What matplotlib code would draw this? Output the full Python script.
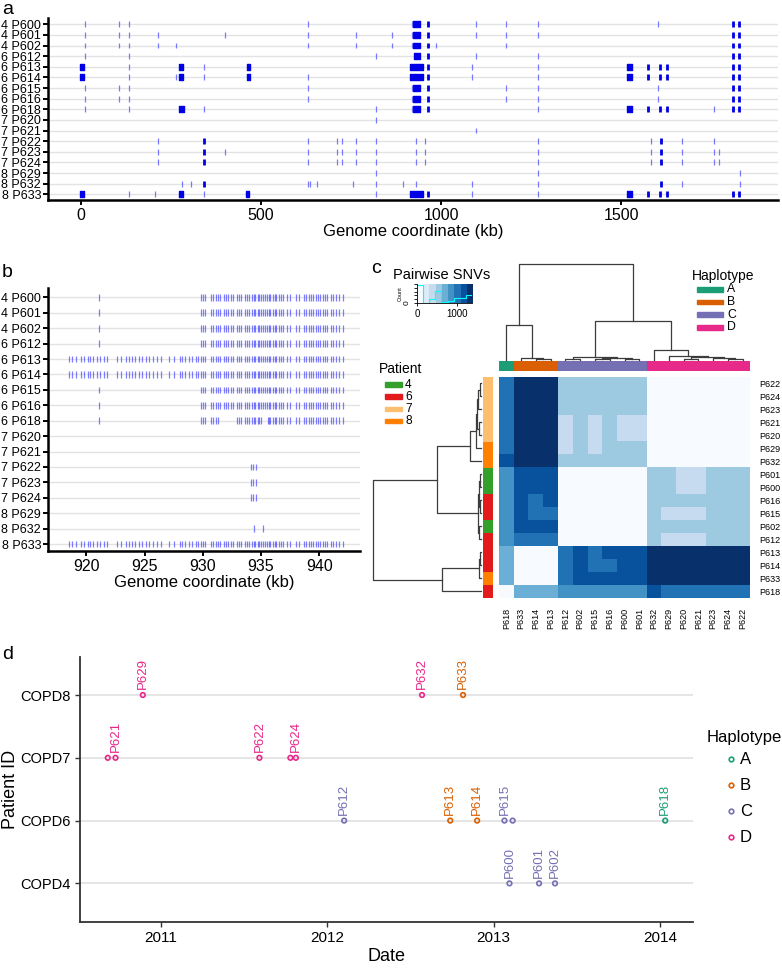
import matplotlib
matplotlib.use("Agg")
import matplotlib.pyplot as plt
from matplotlib.colors import ListedColormap, BoundaryNorm
from matplotlib.patches import Rectangle
import matplotlib.dates as mdates
import numpy as np
from datetime import date

plt.rcParams['font.family'] = ['Liberation Sans', 'DejaVu Sans']

W, H = 782, 968

# ---------------- panel a / b data ----------------
sample_rows = ["4 P600", "4 P601", "4 P602", "6 P612", "6 P613", "6 P614", "6 P615",
               "6 P616", "6 P618", "7 P620", "7 P621", "7 P622", "7 P623", "7 P624",
               "8 P629", "8 P632", "8 P633"]

# single SNVs (kb)
a_light = {
    "P600": [11, 106, 133, 631, 920, 1096, 1181, 1270, 1603],
    "P601": [11, 106, 133, 213, 399, 631, 763, 864, 920, 1096, 1181, 1270],
    "P602": [11, 106, 133, 213, 264, 631, 763, 864, 920, 987, 1181],
    "P612": [11, 133, 818, 1096, 1270],
    "P613": [133, 341, 1087, 1270],
    "P614": [133, 264, 341, 631, 1087, 1270],
    "P615": [11, 106, 133, 631, 920, 1181, 1270, 1603],
    "P616": [11, 106, 133, 631, 920, 1181, 1270, 1603],
    "P618": [11, 133, 341, 818, 920, 1270, 1757],
    "P620": [818],
    "P621": [1096],
    "P622": [213, 631, 712, 726, 763, 818, 931, 954, 1270, 1583, 1668, 1757],
    "P623": [213, 399, 631, 712, 726, 763, 818, 931, 954, 1270, 1583, 1668, 1757, 1771],
    "P624": [213, 631, 712, 726, 763, 818, 931, 954, 1270, 1583, 1668, 1757, 1771],
    "P629": [818, 1270, 1830],
    "P632": [279, 304, 631, 637, 654, 755, 818, 894, 931, 1087, 1270, 1668, 1830],
    "P633": [133, 206, 341, 818, 1087, 1270],
}
# sites with several SNVs on top of each other (kb)
a_dark = {
    "P600": [965, 1810, 1828], "P601": [965, 1810, 1828], "P602": [965, 1810, 1828],
    "P612": [965, 1810, 1828],
    "P613": [965, 1576, 1609, 1627, 1810, 1828], "P614": [965, 1576, 1609, 1627, 1810, 1828],
    "P615": [965, 1810, 1828], "P616": [965, 1810, 1828],
    "P618": [965, 1576, 1609, 1627, 1810, 1828],
    "P620": [], "P621": [],
    "P622": [341, 1611], "P623": [341, 1611], "P624": [341, 1611],
    "P629": [], "P632": [341, 1611],
    "P633": [965, 1576, 1609, 1627, 1810, 1828],
}
# dense SNV stretches (start kb, end kb)
a_blocks = {
    "P600": [(923, 941)], "P601": [(923, 941)], "P602": [(923, 941)], "P612": [(924, 941)],
    "P613": [(-4, 8), (273, 284), (460, 469), (915, 950), (1516, 1530)],
    "P614": [(-4, 8), (273, 284), (460, 469), (915, 950), (1516, 1530)],
    "P615": [(923, 941)], "P616": [(923, 941)],
    "P618": [(271, 286), (923, 941), (1516, 1530)],
    "P633": [(-4, 8), (273, 284), (458, 467), (915, 950), (1516, 1530)],
}

# panel b: SNVs in the 917-943 kb window
b_921 = [921.1]
b_shared = [929.8, 930.0, 930.2, 930.7, 930.9, 931.1, 931.3, 931.5, 931.8, 932.0, 932.2, 932.4,
            932.6, 932.9, 933.1, 933.3, 933.6, 933.8, 934.0, 934.2, 934.4, 934.5, 934.7, 934.8,
            935.0, 935.2, 935.3, 935.5, 935.7, 935.8, 936.0, 936.2, 936.3, 936.5, 936.7, 936.9,
            937.2, 937.5, 938.0, 938.3, 938.7, 938.9, 939.1, 939.3, 939.5, 939.7, 939.9, 940.1,
            940.3, 940.5, 940.7, 941.0, 941.2, 941.4, 941.7, 942.0]
b_early = [918.5, 918.8, 919.1, 919.5, 919.8, 920.1, 920.3, 920.6, 920.9, 921.2, 921.5, 921.8,
           922.6, 923.0, 923.4, 923.7, 923.9, 924.2, 924.5, 924.8, 925.1, 925.4, 925.7, 926.1,
           926.4, 927.1, 927.5, 928.0, 928.2, 928.5, 928.8, 929.1, 929.4, 929.6]
b_p618 = [929.8, 930.0, 930.2, 930.7, 930.9, 931.1, 931.3, 932.9, 933.1, 933.3, 933.6, 933.8,
          934.0, 934.2, 934.4, 934.5, 934.7, 934.8, 935.0, 935.6, 935.7, 935.8, 936.0, 936.2,
          936.3, 936.5, 936.7, 936.9, 937.2, 937.5, 938.0, 938.3, 938.7, 938.9, 939.1, 939.3,
          939.5, 939.7, 939.9, 940.1, 940.3, 940.5, 940.7, 941.0, 941.2, 941.4, 941.7, 942.0]
b_d = [934.1, 934.35, 934.6]
b_p632 = [934.4, 935.2]
b_sites = {
    "P600": b_921 + b_shared, "P601": b_921 + b_shared, "P602": b_921 + b_shared,
    "P612": b_921 + b_shared, "P613": b_early + b_shared, "P614": b_early + b_shared,
    "P615": b_921 + b_shared, "P616": b_921 + b_shared, "P618": b_921 + b_p618,
    "P620": [], "P621": [], "P622": b_d, "P623": b_d, "P624": b_d,
    "P629": [], "P632": b_p632, "P633": b_early + b_shared,
}

# ---------------- panel c data ----------------
hm_order = ["P618", "P633", "P614", "P613", "P612", "P602", "P615", "P616", "P600", "P601",
            "P632", "P629", "P620", "P621", "P623", "P624", "P622"]
haplotype = {"P618": "A", "P633": "B", "P614": "B", "P613": "B",
             "P612": "C", "P602": "C", "P615": "C", "P616": "C", "P600": "C", "P601": "C",
             "P632": "D", "P629": "D", "P620": "D", "P621": "D", "P623": "D", "P624": "D", "P622": "D"}
patient = {"P600": "4", "P601": "4", "P602": "4", "P612": "6", "P613": "6", "P614": "6",
           "P615": "6", "P616": "6", "P618": "6", "P620": "7", "P621": "7", "P622": "7",
           "P623": "7", "P624": "7", "P629": "8", "P632": "8", "P633": "8"}
group_snvs = {("A", "A"): 0, ("A", "B"): 700, ("A", "C"): 850, ("A", "D"): 1000,
              ("B", "B"): 40, ("B", "C"): 1150, ("B", "D"): 1320,
              ("C", "C"): 30, ("C", "D"): 520, ("D", "D"): 20}
pair_snvs = {("P632", "P618"): 1150,
             ("P621", "P612"): 400, ("P621", "P615"): 400, ("P621", "P600"): 400, ("P621", "P601"): 400,
             ("P620", "P612"): 400, ("P620", "P615"): 400, ("P620", "P600"): 400, ("P620", "P601"): 400,
             ("P629", "P612"): 400, ("P629", "P615"): 400,
             ("P616", "P614"): 1000, ("P615", "P614"): 1000, ("P615", "P613"): 1000,
             ("P612", "P633"): 1000, ("P612", "P614"): 1000, ("P612", "P613"): 1000}
# clustering tree (left, right, height)
snv_tree = (("P618", ("P633", ("P614", "P613", 1.0), 2.0), 35),
            ((("P612", "P602", 1.5), (("P615", "P616", 1.0), ("P600", "P601", 1.0), 2.0), 3.0),
             ("P632", ("P629", (("P620", "P621", 1.5), ("P623", ("P624", "P622", 1.0), 2.5), 3.5), 4.5), 10),
             39), 96)
hap_colors = {"A": "#1b9e77", "B": "#d95f02", "C": "#7570b3", "D": "#e7298a"}
pat_colors = {"4": "#33a02c", "6": "#e31a1c", "7": "#fdbf6f", "8": "#ff7f00"}
blues = ["#f7fbff", "#deebf7", "#c6dbef", "#9ecae1", "#6baed6", "#4292c6", "#2171b5", "#08519c", "#08306b"]
snv_max = 1390

# ---------------- panel d data ----------------
d_samples = ["P620", "P621", "P629", "P622", "P623", "P624", "P612", "P632", "P613", "P633",
             "P614", "P615", "P600", "P616", "P601", "P602", "P618"]
d_dates = [date(2010, 9, 7), date(2010, 9, 24), date(2010, 11, 23), date(2011, 8, 6),
           date(2011, 10, 13), date(2011, 10, 25), date(2012, 2, 8), date(2012, 7, 28),
           date(2012, 9, 28), date(2012, 10, 26), date(2012, 11, 26), date(2013, 1, 25),
           date(2013, 2, 5), date(2013, 2, 12), date(2013, 4, 11), date(2013, 5, 16),
           date(2014, 1, 13)]
d_labelled = ["P621", "P629", "P622", "P624", "P612", "P632", "P613", "P633", "P614", "P615",
              "P600", "P601", "P602", "P618"]
patient_ids = ["COPD4", "COPD6", "COPD7", "COPD8"]

fig = plt.figure(figsize=(W / 100, H / 100), dpi=100)


def box(l, t, r, b):
    return [l / W, 1 - b / H, (r - l) / W, (b - t) / H]


def genome_axes(rect, ylim):
    ax = fig.add_axes(rect)
    for s in ("top", "right"):
        ax.spines[s].set_visible(False)
    for s in ("left", "bottom"):
        ax.spines[s].set_linewidth(1.8)
    ax.set_yticks(range(len(sample_rows)))
    ax.set_yticklabels(sample_rows, fontsize=9)
    ax.set_ylim(*ylim)
    for i in range(len(sample_rows)):
        ax.axhline(i, color="#e3e3e3", lw=1, zorder=0)
    ax.tick_params(axis="y", length=3.5, width=1.4, pad=1.5)
    ax.tick_params(axis="x", length=3.5, width=1.4, labelsize=11.5, pad=2)
    ax.set_xlabel("Genome coordinate (kb)", fontsize=12, labelpad=1)
    return ax


# ---- a ----
ax_a = genome_axes(box(48, 18, 778, 200), (16.54, -0.59))
ax_a.set_xlim(-92, 1936)
ax_a.set_xticks([0, 500, 1000, 1500])
for i, row in enumerate(sample_rows):
    s = row.split()[1]
    ax_a.vlines(a_light[s], i - 0.28, i + 0.28, color="#5a5aff", lw=0.9, alpha=0.8)
    ax_a.vlines(a_dark[s], i - 0.28, i + 0.28, color="#0000e6", lw=2.0)
    blocks = a_blocks.get(s, [])
    ax_a.broken_barh([(st, en - st) for st, en in blocks], (i - 0.28, 0.56), color="#0000e6")

# ---- b ----
ax_b = genome_axes(box(48, 288, 360, 551), (16.45, -0.61))
ax_b.set_xlim(916.7, 943.5)
ax_b.set_xticks([920, 925, 930, 935, 940])
for i, row in enumerate(sample_rows):
    s = row.split()[1]
    ax_b.vlines(b_sites[s], i - 0.22, i + 0.22, color="#2a2aff", lw=0.9, alpha=0.6)

# ---- c ----
def snvs(p, q):
    if p == q:
        return 0
    if (p, q) in pair_snvs:
        return pair_snvs[(p, q)]
    if (q, p) in pair_snvs:
        return pair_snvs[(q, p)]
    g = tuple(sorted((haplotype[p], haplotype[q])))
    return group_snvs[g]


row_order = hm_order[::-1]
M = np.array([[snvs(r, c) for c in hm_order] for r in row_order])
cmap = ListedColormap(blues)
bounds = np.linspace(0, snv_max, len(blues) + 1)
norm = BoundaryNorm(bounds, cmap.N)

ax_h = fig.add_axes(box(499, 376.7, 750, 597.7))
ax_h.imshow(M, cmap=cmap, norm=norm, aspect="auto", interpolation="nearest")
for s in ax_h.spines.values():
    s.set_visible(False)
ax_h.yaxis.tick_right()
ax_h.set_yticks(range(len(row_order)))
ax_h.set_yticklabels(row_order, fontsize=6.5)
ax_h.set_xticks(range(len(hm_order)))
ax_h.set_xticklabels(hm_order, fontsize=6.5, rotation=90)
ax_h.tick_params(length=0, pad=7)

# haplotype bar (columns)
ax_cb = fig.add_axes(box(499, 361, 750, 371))
ax_cb.bar(range(len(hm_order)), 1, width=1.0, color=[hap_colors[haplotype[s]] for s in hm_order])
ax_cb.set_xlim(-0.5, len(hm_order) - 0.5)
ax_cb.set_ylim(0, 1)
ax_cb.axis("off")

# patient bar (rows)
ax_rb = fig.add_axes(box(483, 376.7, 493, 597.7))
ax_rb.barh(range(len(row_order)), 1, height=1.0, color=[pat_colors[patient[s]] for s in row_order])
ax_rb.set_ylim(len(row_order) - 0.5, -0.5)
ax_rb.set_xlim(0, 1)
ax_rb.axis("off")


def draw_tree(ax, node, pos, top):
    if isinstance(node, str):
        return pos[node], 0.0
    left, right, h = node
    pl, hl = draw_tree(ax, left, pos, top)
    pr, hr = draw_tree(ax, right, pos, top)
    xs, hs = [pl, pl, pr, pr], [hl, h, h, hr]
    if top:
        ax.plot(xs, hs, color="#3c3c3c", lw=0.9, clip_on=False)
    else:
        ax.plot(hs, xs, color="#3c3c3c", lw=0.9, clip_on=False)
    return (pl + pr) / 2, h


ax_ct = fig.add_axes(box(499, 262, 750, 360))
draw_tree(ax_ct, snv_tree, {s: i for i, s in enumerate(hm_order)}, True)
ax_ct.set_xlim(-0.5, len(hm_order) - 0.5)
ax_ct.set_ylim(0, 98)
ax_ct.axis("off")

ax_rt = fig.add_axes(box(373, 376.7, 481, 597.7))
draw_tree(ax_rt, snv_tree, {s: i for i, s in enumerate(row_order)}, False)
ax_rt.set_ylim(len(row_order) - 0.5, -0.5)
ax_rt.set_xlim(96, 0)
ax_rt.axis("off")

# colour key with histogram
ax_k = fig.add_axes(box(417, 284, 472, 303))
ax_k.imshow(np.arange(len(blues))[None, :], cmap=cmap, aspect="auto",
            extent=(0, snv_max, 0, 1), interpolation="nearest")
counts, _ = np.histogram(M.ravel(), bins=bounds)
hist = counts / counts.max() * 0.95
ax_k.step(bounds, np.append(hist, hist[-1]), where="post", color="cyan", lw=0.8)
ax_k.set_xlim(0, snv_max)
ax_k.set_ylim(0, 1)
ax_k.set_xticks([0, 1000])
ax_k.set_xticklabels(["0", "1000"], fontsize=7)
ax_k.set_yticks(np.linspace(0, 1, 6))
ax_k.set_yticklabels(["0", "", "", "", "", ""], fontsize=6, rotation=90, va="center")
ax_k.set_ylabel("Count", fontsize=4, labelpad=1)
ax_k.tick_params(length=2.5, width=0.6, pad=2)
for s in ("top", "right"):
    ax_k.spines[s].set_visible(False)
for s in ("left", "bottom"):
    ax_k.spines[s].set_linewidth(0.6)

# ---- d ----
ax_d = fig.add_axes(box(80, 656.7, 693, 921.7))
ypos = [patient_ids.index("COPD" + patient[s]) for s in d_samples]
cols = [hap_colors[haplotype[s]] for s in d_samples]
ax_d.scatter(d_dates, ypos, s=11, facecolors="none", edgecolors=cols, linewidths=1.2, zorder=3)
for s, dt, y, c in zip(d_samples, d_dates, ypos, cols):
    if s in d_labelled:
        ax_d.annotate(s, (mdates.date2num(dt), y), xytext=(0, 4), textcoords="offset points",
                      rotation=90, ha="center", va="bottom", color=c, fontsize=9.5)
ax_d.set_yticks(range(len(patient_ids)))
ax_d.set_yticklabels(patient_ids, fontsize=10.5)
ax_d.set_ylim(-0.61, 3.61)
ax_d.set_xlim(date(2010, 7, 8), date(2014, 3, 15))
ax_d.xaxis.set_major_locator(mdates.YearLocator())
ax_d.xaxis.set_major_formatter(mdates.DateFormatter("%Y"))
ax_d.tick_params(axis="x", labelsize=11, length=3.5, width=1, color="#333333")
ax_d.tick_params(axis="y", length=3.5, width=1, color="#333333", labelsize=10.5)
ax_d.yaxis.grid(True, color="#e0e0e0", lw=1.2)
ax_d.set_axisbelow(True)
for s in ("top", "right"):
    ax_d.spines[s].set_visible(False)
for s in ("left", "bottom"):
    ax_d.spines[s].set_linewidth(1.3)
    ax_d.spines[s].set_color("#333333")
ax_d.set_xlabel("Date", fontsize=13, labelpad=2)
ax_d.set_ylabel("Patient ID", fontsize=13, labelpad=1)

# ---- overlay: panel letters and legends (pixel coordinates) ----
ov = fig.add_axes([0, 0, 1, 1], facecolor="none")
ov.set_xlim(0, W)
ov.set_ylim(H, 0)
ov.axis("off")
for letter, x, y in [("a", 2, 14), ("b", 2, 277), ("c", 371, 273), ("d", 2, 659)]:
    ov.text(x, y, letter, fontsize=14, va="baseline")

ov.text(393, 279, "Pairwise SNVs", fontsize=10.5, va="baseline")

ov.text(692, 280, "Haplotype", fontsize=10, va="baseline")
for k, (h, c) in enumerate(hap_colors.items()):
    yc = 289.5 + 12.6 * k
    ov.add_patch(Rectangle((697, yc - 2.3), 26, 4.6, color=c))
    ov.text(727, yc, h, fontsize=8.8, va="center")

ov.text(379, 373, "Patient", fontsize=10, va="baseline")
for k, (p, c) in enumerate(pat_colors.items()):
    yc = 384.5 + 12.2 * k
    ov.add_patch(Rectangle((385, yc - 2.3), 17, 4.6, color=c))
    ov.text(405, yc, p, fontsize=8.6, va="center")

ov.text(707, 742, "Haplotype", fontsize=12, va="baseline")
for k, (h, c) in enumerate(hap_colors.items()):
    yc = 759.5 + 26 * k
    ov.scatter([731.5], [yc], s=11, facecolors="none", edgecolors=c, linewidths=1.2)
    ov.text(740, yc, h, fontsize=12, va="center")

fig.savefig("out.png", dpi=100)
